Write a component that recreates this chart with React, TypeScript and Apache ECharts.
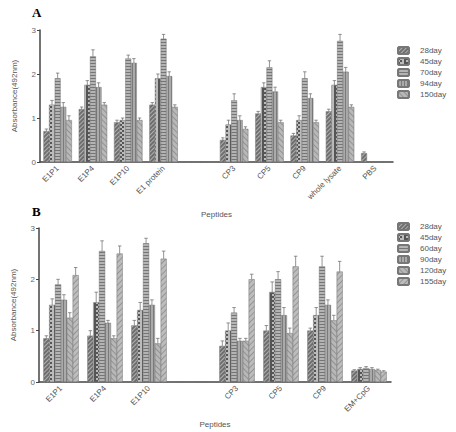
import React, { useEffect, useRef } from "react";
import * as echarts from "echarts";

const catsA = ["E1P1", "E1P4", "E1P10", "E1 protein", "", "CP3", "CP5", "CP9", "whole lysate", "PBS"];
const namesA = ["28day", "45day", "70day", "94day", "150day"];
const d28A = [0.7, 1.2, 0.9, 1.3, 0, 0.5, 1.1, 0.6, 1.15, 0.2];
const d45A = [1.3, 1.75, 0.95, 1.9, 0, 0.85, 1.7, 0.95, 1.75, 0];
const d70A = [1.9, 2.4, 2.35, 2.8, 0, 1.4, 2.15, 1.9, 2.75, 0];
const d94A = [1.25, 1.7, 2.25, 1.95, 0, 0.95, 1.6, 1.45, 2.05, 0];
const d150A = [0.95, 1.3, 0.95, 1.25, 0, 0.75, 0.9, 0.9, 1.25, 0];
const e28A = [0.05, 0.05, 0.05, 0.05, 0, 0.05, 0.05, 0.05, 0.05, 0.03];
const e45A = [0.1, 0.1, 0.05, 0.1, 0, 0.1, 0.1, 0.1, 0.1, 0];
const e70A = [0.12, 0.15, 0.08, 0.1, 0, 0.15, 0.15, 0.15, 0.15, 0];
const e94A = [0.1, 0.1, 0.1, 0.1, 0, 0.1, 0.1, 0.1, 0.1, 0];
const e150A = [0.1, 0.05, 0.05, 0.05, 0, 0.05, 0.05, 0.05, 0.05, 0];

const catsB = ["E1P1", "E1P4", "E1P10", "", "CP3", "CP5", "CP9", "EM+CpG"];
const namesB = ["28day", "45day", "60day", "90day", "120day", "155day"];
const d28B = [0.85, 0.9, 1.1, 0, 0.7, 1.0, 1.0, 0.22];
const d45B = [1.5, 1.55, 1.4, 0, 1.0, 1.75, 1.3, 0.25];
const d60B = [1.9, 2.55, 2.7, 0, 1.35, 2.0, 2.25, 0.27];
const d90B = [1.6, 1.15, 1.5, 0, 0.8, 1.3, 1.5, 0.25];
const d120B = [1.25, 0.85, 0.75, 0, 0.8, 0.95, 1.2, 0.23];
const d155B = [2.08, 2.5, 2.4, 0, 2.0, 2.25, 2.15, 0.2];
const e28B = [0.05, 0.1, 0.1, 0, 0.1, 0.1, 0.05, 0.02];
const e45B = [0.12, 0.2, 0.15, 0, 0.15, 0.2, 0.15, 0.03];
const e60B = [0.1, 0.2, 0.1, 0, 0.1, 0.15, 0.2, 0.03];
const e90B = [0.1, 0.05, 0.1, 0, 0.05, 0.15, 0.1, 0.03];
const e120B = [0.1, 0.05, 0.1, 0, 0.05, 0.1, 0.1, 0.02];
const e155B = [0.15, 0.15, 0.15, 0, 0.1, 0.2, 0.2, 0.02];

const dataA = [d28A, d45A, d70A, d94A, d150A];
const errA = [e28A, e45A, e70A, e94A, e150A];
const dataB = [d28B, d45B, d60B, d90B, d120B, d155B];
const errB = [e28B, e45B, e60B, e90B, e120B, e155B];

const styles = [
  { color: "#6e6e6e", decal: { symbol: "rect", color: "rgba(255,255,255,0.45)", dashArrayX: [1, 0], dashArrayY: [1, 2], rotation: -Math.PI / 4 } },
  { color: "#555555", decal: { symbol: "rect", color: "rgba(255,255,255,0.6)", dashArrayX: [[2, 2], [0, 2, 2]], dashArrayY: [2, 0], symbolSize: 1 } },
  { color: "#b4b4b4", decal: { symbol: "rect", color: "rgba(90,90,90,0.7)", dashArrayX: [1, 0], dashArrayY: [1, 2], rotation: 0 } },
  { color: "#aaaaaa", decal: { symbol: "rect", color: "rgba(90,90,90,0.6)", dashArrayX: [1, 2], dashArrayY: [1, 0], rotation: 0 } },
  { color: "#b8b8b8", decal: { symbol: "rect", color: "rgba(110,110,110,0.5)", dashArrayX: [1, 0], dashArrayY: [1, 3], rotation: Math.PI / 4 } },
  { color: "#bdbdbd", decal: { symbol: "rect", color: "rgba(110,110,110,0.5)", dashArrayX: [1, 0], dashArrayY: [1, 3], rotation: -Math.PI / 4 } },
];

const GAP = 0.2;
const FONT = "Liberation Sans, Arial, sans-serif";

function errorSeries(data: number[][], err: number[][], axisIndex: number) {
  const n = data.length;
  const items: number[][] = [];
  data.forEach((arr, si) => {
    arr.forEach((v, ci) => {
      if (v > 0 && err[si][ci] > 0) items.push([ci, v, err[si][ci], si]);
    });
  });
  return {
    type: "custom",
    xAxisIndex: axisIndex,
    yAxisIndex: axisIndex,
    silent: true,
    z: 3,
    encode: { x: 0, y: 1 },
    data: items,
    renderItem: (params: any, api: any) => {
      const ci = api.value(0);
      const v = api.value(1);
      const e = api.value(2);
      const si = api.value(3);
      const band = api.size([1, 0])[0];
      const gw = band * (1 - GAP);
      const bw = gw / n;
      const top = api.coord([ci, v + e]);
      const base = api.coord([ci, v]);
      const x = top[0] - gw / 2 + bw * (si + 0.5);
      const cap = bw * 0.3;
      const st = { stroke: "#666", lineWidth: 0.7 };
      return {
        type: "group",
        children: [
          { type: "line", shape: { x1: x, y1: base[1], x2: x, y2: top[1] }, style: st },
          { type: "line", shape: { x1: x - cap, y1: top[1], x2: x + cap, y2: top[1] }, style: st },
        ],
      };
    },
  };
}

function axes(cats: string[], idx: number, nameGap: number) {
  const x = {
    type: "category",
    gridIndex: idx,
    data: cats,
    boundaryGap: true,
    name: "Peptides",
    nameLocation: "middle",
    nameGap,
    nameTextStyle: { fontSize: 8, color: "#555", fontFamily: FONT },
    axisLine: { lineStyle: { color: "#444", width: 1.5 } },
    axisTick: { alignWithLabel: true, length: 3, lineStyle: { color: "#444" } },
    axisLabel: { rotate: 45, interval: 0, fontSize: 8, color: "#555", fontFamily: FONT, margin: 5 },
  };
  const y = {
    type: "value",
    gridIndex: idx,
    min: 0,
    max: 3,
    interval: 1,
    name: "Absorbance(492nm)",
    nameLocation: "middle",
    nameGap: 22,
    nameTextStyle: { fontSize: 8, color: "#555", fontFamily: FONT },
    splitLine: { show: false },
    axisLine: { show: true, lineStyle: { color: "#444", width: 1.5 } },
    axisTick: { show: true, length: 3, lineStyle: { color: "#444" } },
    axisLabel: { fontSize: 8, color: "#666", fontFamily: FONT, margin: 4 },
  };
  return { x, y };
}

export default function App() {
  const ref = useRef<HTMLDivElement>(null);
  useEffect(() => {
    document.body.style.margin = "0";
    const chart = echarts.init(ref.current!, undefined, { renderer: "svg" });
    const aA = axes(catsA, 0, 48);
    const aB = axes(catsB, 1, 38);
    const series: any[] = [];
    dataA.forEach((d, i) => {
      series.push({
        type: "bar",
        name: namesA[i],
        xAxisIndex: 0,
        yAxisIndex: 0,
        data: d,
        barGap: "0%",
        barCategoryGap: GAP * 100 + "%",
        itemStyle: { color: styles[i].color, decal: styles[i].decal, borderColor: "#777", borderWidth: 0.3 },
      });
    });
    dataB.forEach((d, i) => {
      series.push({
        type: "bar",
        name: namesB[i],
        xAxisIndex: 1,
        yAxisIndex: 1,
        data: d,
        barGap: "0%",
        barCategoryGap: GAP * 100 + "%",
        itemStyle: { color: styles[i].color, decal: styles[i].decal, borderColor: "#777", borderWidth: 0.3 },
      });
    });
    series.push(errorSeries(dataA, errA, 0));
    series.push(errorSeries(dataB, errB, 1));
    const legendCommon = {
      orient: "vertical",
      left: 397,
      itemWidth: 11,
      itemHeight: 7,
      itemGap: 2,
      padding: 0,
      selectedMode: false,
      textStyle: { fontSize: 8, lineHeight: 8, color: "#555", fontFamily: FONT, padding: [0, 0, 0, 6] },
    };
    chart.setOption({
      animation: false,
      grid: [
        { left: 40, top: 30, width: 353, height: 132 },
        { left: 39, top: 228, width: 352, height: 154 },
      ],
      xAxis: [aA.x, aB.x],
      yAxis: [aA.y, aB.y],
      legend: [
        { ...legendCommon, top: 46, data: namesA },
        {
          ...legendCommon,
          top: 222,
          data: namesB.map((n, i) => ({ name: n, itemStyle: { color: styles[i].color, decal: styles[i].decal } })),
        },
      ],
      graphic: [
        { type: "text", left: 32, top: 6, style: { text: "A", font: "bold 13px 'Liberation Serif', serif", fill: "#000" } },
        { type: "text", left: 32, top: 205, style: { text: "B", font: "bold 13px 'Liberation Serif', serif", fill: "#000" } },
      ],
      series,
    });
    return () => chart.dispose();
  }, []);
  return <div ref={ref} style={{ width: 456, height: 432 }} />;
}
